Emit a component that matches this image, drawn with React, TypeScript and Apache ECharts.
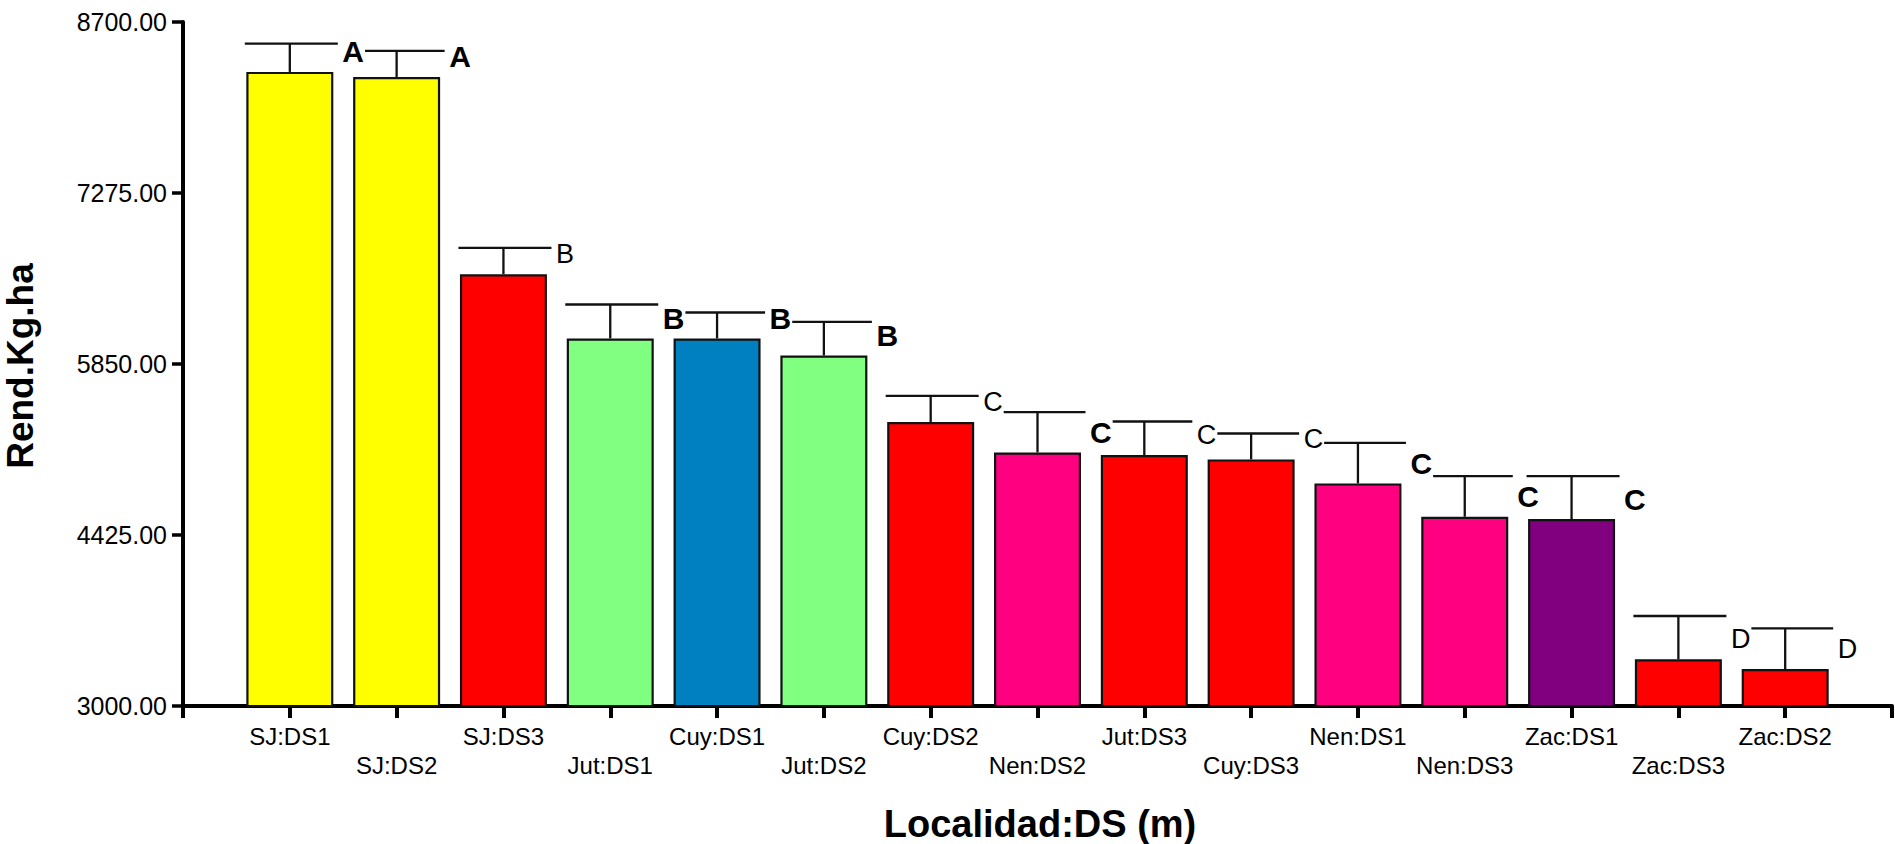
import React, { useEffect, useRef } from "react";
import * as echarts from "echarts";

const categories = ["SJ:DS1", "SJ:DS2", "SJ:DS3", "Jut:DS1", "Cuy:DS1", "Jut:DS2", "Cuy:DS2", "Nen:DS2", "Jut:DS3", "Cuy:DS3", "Nen:DS1", "Nen:DS3", "Zac:DS1", "Zac:DS3", "Zac:DS2"];
const means = [8284, 8242, 6598, 6063, 6063, 5921, 5366, 5113, 5091, 5055, 4855, 4577, 4558, 3389, 3308];
const errorUpper = [8520, 8459, 6817, 6346, 6279, 6201, 5585, 5449, 5371, 5271, 5193, 4916, 4916, 3750, 3647];
const letters = ["A", "A", "B", "B", "B", "B", "C", "C", "C", "C", "C", "C", "C", "D", "D"];
const letterBold = [true, true, false, true, true, true, false, true, false, false, true, true, true, false, false];
const barColors = ["#FFFF00", "#FFFF00", "#FF0000", "#80FF80", "#0080C0", "#80FF80", "#FF0000", "#FF0080", "#FF0000", "#FF0000", "#FF0080", "#FF0080", "#800080", "#FF0000", "#FF0000"];
const yTicks = [3000, 4425, 5850, 7275, 8700];

const FONT = "'Liberation Sans', Arial, Helvetica, sans-serif";

export default function App() {
  const ref = useRef<HTMLDivElement>(null);
  useEffect(() => {
    if (!ref.current) return;
    const chart = echarts.init(ref.current, null, { renderer: "svg" });
    const axisCats = ["", ...categories, ""];
    const option: any = {
      animation: false,
      backgroundColor: "#ffffff",
      grid: { left: 183, right: 3, top: 22, bottom: 138 },
      xAxis: {
        type: "category",
        data: axisCats,
        boundaryGap: false,
        axisLine: { show: true, lineStyle: { color: "#000", width: 4 } },
        axisTick: { show: true, interval: 0, length: 12, lineStyle: { color: "#000", width: 4 } },
        axisLabel: {
          interval: 0,
          margin: 16,
          color: "#000",
          fontFamily: FONT,
          fontSize: 24,
          lineHeight: 29,
          formatter: (v: string, i: number) => (i % 2 === 0 && v ? "\n" + v : v),
        },
        splitLine: { show: false },
      },
      yAxis: {
        type: "value",
        min: 3000,
        max: 8700,
        axisLine: { show: true, lineStyle: { color: "#000", width: 4 } },
        axisTick: { show: true, length: 11, customValues: yTicks, lineStyle: { color: "#000", width: 3.5 } },
        axisLabel: {
          margin: 16,
          color: "#000",
          fontFamily: FONT,
          fontSize: 25,
          customValues: yTicks,
          formatter: (v: number) => v.toFixed(2),
        },
        splitLine: { show: false },
      },
      series: [
        {
          type: "custom",
          z: 1,
          renderItem: (params: any, api: any) => {
            const x = api.value(0);
            const m = api.value(1);
            const t = api.value(2);
            const p0 = api.coord([x, m]);
            const p1 = api.coord([x, t]);
            return {
              type: "group",
              children: [
                { type: "line", shape: { x1: p0[0], y1: p0[1], x2: p1[0], y2: p1[1] }, style: { stroke: "#111", lineWidth: 2.3 } },
                { type: "line", shape: { x1: p1[0] - 45, y1: p1[1], x2: p1[0] + 48, y2: p1[1] }, style: { stroke: "#111", lineWidth: 2.3 } },
              ],
            };
          },
          encode: { x: 0, y: 2 },
          data: means.map((m, i) => [i + 1, m, errorUpper[i]]),
        },
        {
          type: "bar",
          z: 2,
          barWidth: 87,
          data: means.map((m, i) => ({ value: [i + 1, m], itemStyle: { color: barColors[i] } })),
          itemStyle: { borderColor: "#111", borderWidth: 2.2 },
          label: {
            show: true,
            position: [95, -20],
            align: "left",
            verticalAlign: "middle",
            backgroundColor: "#ffffff",
            padding: [0, 1],
            color: "#000",
            fontFamily: FONT,
            formatter: (p: any) => (letterBold[p.dataIndex] ? `{b|${letters[p.dataIndex]}}` : `{r|${letters[p.dataIndex]}}`),
            rich: {
              b: { fontFamily: FONT, fontSize: 30, fontWeight: "bold", color: "#000", lineHeight: 30 },
              r: { fontFamily: FONT, fontSize: 27, fontWeight: "normal", color: "#000", lineHeight: 28 },
            },
          },
        },
      ],
      graphic: [
        {
          type: "text",
          x: 1040,
          y: 824,
          style: { text: "Localidad:DS (m)", fontFamily: FONT, fontSize: 38, fontWeight: "bold", fill: "#000", align: "center", verticalAlign: "middle" },
        },
        {
          type: "text",
          x: 20,
          y: 366,
          rotation: Math.PI / 2,
          style: { text: "Rend.Kg.ha", fontFamily: FONT, fontSize: 37, fontWeight: "bold", fill: "#000", align: "center", verticalAlign: "middle" },
        },
      ],
    };
    chart.setOption(option);
    return () => chart.dispose();
  }, []);
  return <div ref={ref} style={{ position: "absolute", left: 0, top: 0, width: "1895px", height: "844px" }} />;
}
